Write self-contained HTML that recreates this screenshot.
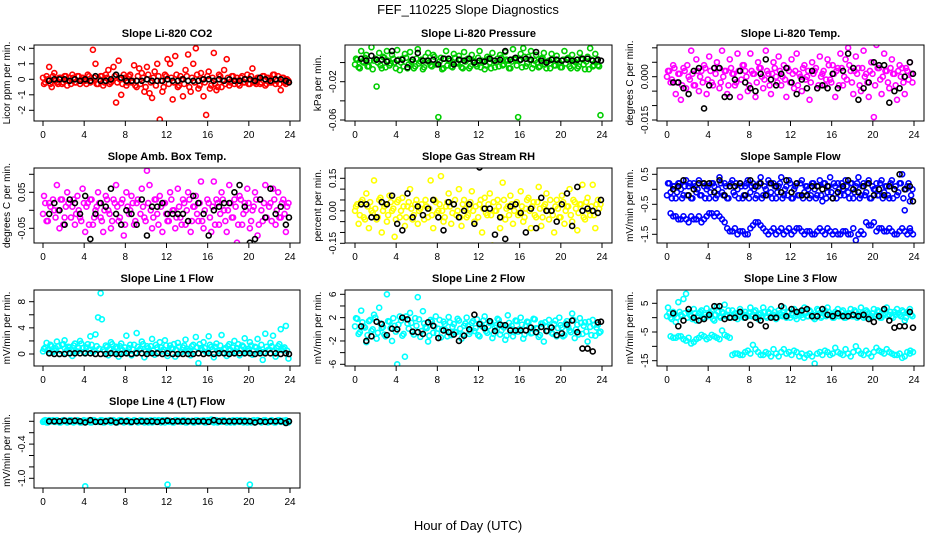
<!DOCTYPE html>
<html><head><meta charset="utf-8"><style>
html,body{margin:0;padding:0;background:#fff;}
svg{display:block;font-family:"Liberation Sans",sans-serif;}
</style></head><body>
<svg id="chart" width="936" height="540" viewBox="0 0 936 540">
<text x="468" y="14" text-anchor="middle" font-size="13">FEF_110225  Slope Diagnostics</text>
<text x="468" y="530" text-anchor="middle" font-size="13">Hour of Day (UTC)</text>
</svg>
<script>
const hoursC = [0.1,0.35,0.6,0.85,1.1,1.35,1.6,1.85,2.1,2.35,2.6,2.85,3.1,3.35,3.6,3.85,4.1,4.35,4.6,4.85,5.1,5.35,5.6,5.85,6.1,6.35,6.6,6.85,7.1,7.35,7.6,7.85,8.1,8.35,8.6,8.85,9.1,9.35,9.6,9.85,10.1,10.35,10.6,10.85,11.1,11.35,11.6,11.85,12.1,12.35,12.6,12.85,13.1,13.35,13.6,13.85,14.1,14.35,14.6,14.85,15.1,15.35,15.6,15.85,16.1,16.35,16.6,16.85,17.1,17.35,17.6,17.85,18.1,18.35,18.6,18.85,19.1,19.35,19.6,19.85,20.1,20.35,20.6,20.85,21.1,21.35,21.6,21.85,22.1,22.35,22.6,22.85,23.1,23.35,23.6,23.85];
const hoursC2 = [0.0,0.22,0.47,0.72,0.97,1.22,1.47,1.72,1.97,2.22,2.47,2.72,2.97,3.22,3.47,3.72,3.97,4.22,4.47,4.72,4.97,5.22,5.47,5.72,5.97,6.22,6.47,6.72,6.97,7.22,7.47,7.72,7.97,8.22,8.47,8.72,8.97,9.22,9.47,9.72,9.97,10.22,10.47,10.72,10.97,11.22,11.47,11.72,11.97,12.22,12.47,12.72,12.97,13.22,13.47,13.72,13.97,14.22,14.47,14.72,14.97,15.22,15.47,15.72,15.97,16.22,16.47,16.72,16.97,17.22,17.47,17.72,17.97,18.22,18.47,18.72,18.97,19.22,19.47,19.72,19.97,20.22,20.47,20.72,20.97,21.22,21.47,21.72,21.97,22.22,22.47,22.72,22.97,23.22,23.47,23.72,23.97];
const hoursB = [0.6,1.1,1.6,2.1,2.6,3.1,3.6,4.1,4.6,5.1,5.6,6.1,6.6,7.1,7.6,8.1,8.6,9.1,9.6,10.1,10.6,11.1,11.6,12.1,12.6,13.1,13.6,14.1,14.6,15.1,15.6,16.1,16.6,17.1,17.6,18.1,18.6,19.1,19.6,20.1,20.6,21.1,21.6,22.1,22.6,23.1,23.6,23.9];

const co2C = [-0.3,0.2,0.8,-0.5,0.4,-0.2,0.1,-0.3,0.2,-0.4,0.1,0.3,-0.2,0.2,-0.3,0.1,-0.1,0.3,-0.2,1.9,1.0,-0.3,0.2,-0.4,0.3,0.6,-0.2,0.8,-1.5,1.2,-1.0,0.3,-0.4,0.2,-0.2,0.9,-0.5,0.7,0.4,-0.8,0.8,-0.9,-1.2,0.5,1.0,-2.6,-0.8,0.3,1.3,1.0,-1.3,1.5,-0.5,0.2,-1.1,0.6,1.6,-0.8,1.0,2.0,-0.6,0.4,-1.1,-2.3,0.5,-0.4,1.7,-0.7,0.3,-0.5,0.6,1.3,-0.4,0.2,-0.3,0.1,-0.4,0.2,-0.2,0.3,-0.3,0.7,-0.2,0.1,-0.3,0.2,-0.4,0.1,-0.2,0.3,-0.3,0.2,-0.7,0.1,-0.3,-0.1];
const co2C2 = [0.1,-0.2,0.0,-0.3,0.2,-0.1,-0.3,0.1,-0.2,0.2,-0.1,-0.3,0.1,-0.2,0.2,-0.1,0.0,-0.3,0.2,-0.1,0.1,-0.3,0.0,0.2,-0.2,0.1,-0.3,-0.1,0.2,-0.2,0.0,-0.3,0.1,-0.2,0.3,-0.1,-0.4,0.2,-0.3,0.1,-0.5,0.3,-0.2,0.1,-0.4,0.2,-0.1,-0.5,0.2,-0.3,0.1,-0.2,0.3,-0.4,0.0,-0.3,0.2,-0.5,0.1,-0.2,0.3,-0.4,0.0,-0.2,0.2,-0.6,0.1,-0.3,-0.5,0.2,-0.1,-0.3,0.1,-0.2,0.2,-0.1,-0.3,0.1,-0.2,0.0,-0.3,0.2,-0.1,-0.3,0.1,-0.2,0.2,-0.3,0.0,-0.2,0.3,-0.1,-0.3,0.1,-0.2,0.0];
const co2B = [-0.1,0.0,0.0,0.0,-0.1,0.0,-0.1,0.0,-0.1,0.2,-0.1,-0.1,0.0,0.3,0.1,-0.1,-0.1,-0.1,-0.1,0.0,-0.1,-0.1,-0.1,0.0,-0.1,-0.1,0.0,-0.1,-0.1,-0.1,0.0,0.0,-0.1,0.0,-0.1,0.0,-0.1,-0.1,0.0,0.0,-0.1,0.1,0.0,-0.1,0.0,0.0,-0.1,-0.2];

const presC = [0.004,-0.005,0.012,0.0,0.008,-0.004,0.016,0.002,-0.025,0.01,-0.006,0.005,0.012,-0.003,0.008,0.0,0.013,-0.008,0.004,0.009,-0.006,0.011,0.003,-0.004,0.014,0.001,-0.007,0.006,0.01,-0.003,0.008,-0.002,-0.057,0.005,-0.006,0.012,0.002,-0.004,0.009,0.0,0.007,-0.005,0.011,0.003,-0.006,0.008,0.001,-0.004,0.012,0.002,-0.007,0.006,0.0,0.01,-0.005,0.004,0.008,-0.003,0.011,0.002,-0.006,0.014,0.003,-0.057,0.009,0.015,-0.004,0.006,0.012,-0.002,0.008,-0.005,0.004,0.01,-0.006,0.002,0.009,-0.003,0.007,0.0,-0.005,0.012,0.004,-0.004,0.008,0.001,-0.006,0.01,0.003,-0.007,0.006,0.015,-0.004,0.009,-0.003,-0.055];
const presC2 = [-0.002,0.003,-0.006,0.001,0.005,-0.004,0.002,-0.007,0.004,0.0,-0.003,0.006,-0.005,0.002,-0.001,0.004,-0.006,0.003,0.0,-0.004,0.005,-0.002,0.001,-0.006,0.004,-0.001,0.003,-0.005,0.002,0.0,-0.004,0.006,-0.002,0.001,-0.007,0.004,-0.003,0.002,-0.005,0.005,-0.001,0.003,-0.006,0.001,0.004,-0.004,0.002,-0.002,0.005,-0.005,0.001,-0.003,0.004,-0.006,0.002,0.0,-0.004,0.005,-0.002,0.003,-0.006,0.001,0.004,-0.003,0.002,-0.005,0.006,-0.001,0.003,-0.006,0.002,0.0,-0.004,0.005,-0.002,0.001,-0.006,0.004,-0.003,0.002,-0.005,0.003,-0.001,0.005,-0.006,0.002,0.0,-0.004,0.004,-0.002,0.001,-0.007,0.003,-0.003,0.002,-0.004];
const presB = [0.004,0.002,0.007,0.003,0.003,0.001,0.012,0.002,0.003,-0.005,0.003,0.01,0.002,0.002,0.003,-0.002,0.004,0.004,-0.002,0.003,0.002,0.004,0.0,0.002,0.001,0.004,0.002,0.003,0.012,0.003,0.005,0.003,0.004,0.003,0.011,0.002,0.0,0.003,0.003,0.002,0.003,0.002,0.003,0.004,0.004,0.002,0.003,0.002];

const tempC = [0.002,-0.002,0.004,-0.006,0.001,-0.008,0.003,-0.004,0.0,0.009,-0.003,0.006,-0.005,0.002,0.004,-0.006,0.007,-0.002,0.003,0.005,-0.004,0.009,0.002,-0.006,0.006,0.001,-0.003,0.008,-0.007,0.004,0.002,-0.005,0.008,0.001,-0.007,0.005,0.003,-0.004,0.009,0.001,-0.006,0.005,0.0,0.007,-0.003,0.004,-0.007,0.002,0.006,-0.004,0.008,0.001,-0.005,0.004,0.0,-0.008,0.005,0.002,-0.004,0.007,0.001,-0.003,0.006,-0.001,0.004,-0.007,0.003,0.008,-0.003,0.006,0.01,0.002,-0.006,0.007,0.003,-0.005,0.009,0.001,-0.007,0.005,-0.014,0.011,0.003,-0.006,0.008,0.002,-0.004,0.006,0.001,-0.008,0.004,0.003,-0.006,0.002,0.005,-0.002];
const tempC2 = [0.0,0.002,-0.001,0.003,-0.002,0.001,-0.003,0.002,0.004,-0.001,0.001,-0.003,0.002,0.0,-0.002,0.003,-0.001,0.002,-0.003,0.001,0.003,-0.002,0.0,0.002,-0.003,0.003,0.001,-0.002,0.002,-0.001,0.004,0.0,-0.003,0.002,0.001,-0.002,0.003,0.0,-0.001,0.002,-0.003,0.001,0.003,-0.002,0.002,0.0,-0.001,0.003,-0.002,0.001,0.002,-0.003,0.0,0.003,-0.001,0.002,-0.002,0.001,0.003,-0.003,0.0,0.002,-0.001,0.004,-0.002,0.001,0.002,-0.003,0.003,0.0,-0.001,0.004,-0.002,0.002,0.001,-0.003,0.003,0.0,-0.002,0.002,0.001,-0.003,0.003,-0.001,0.0,0.002,-0.002,0.003,0.001,-0.003,0.002,0.0,-0.002,0.003,-0.001,0.001];
const tempB = [-0.002,-0.002,-0.004,-0.006,0.002,0.003,-0.011,-0.003,0.003,0.003,-0.007,-0.007,-0.001,0.002,-0.002,-0.004,-0.005,0.001,0.006,-0.001,-0.003,0.001,0.003,-0.002,-0.006,-0.001,-0.004,0.002,-0.004,-0.003,-0.004,0.001,-0.004,0.002,0.008,0.003,-0.008,-0.004,-0.002,0.005,0.004,0.004,-0.009,-0.005,-0.004,0.0,0.005,0.001];

const ambC = [0.04,-0.03,0.02,-0.11,0.0,0.07,-0.05,0.03,-0.02,0.05,-0.1,0.01,-0.04,0.04,-0.02,0.06,-0.06,0.02,0.03,-0.04,0.0,0.05,-0.02,-0.06,0.04,0.0,-0.05,0.03,0.07,-0.03,0.02,-0.07,0.05,-0.01,0.04,-0.04,0.02,-0.11,0.06,-0.02,0.11,0.07,-0.05,0.03,-0.01,0.04,-0.06,0.02,-0.03,0.05,0.0,-0.05,0.06,-0.02,0.03,-0.04,0.05,-0.06,0.01,0.04,-0.03,0.08,-0.05,-0.13,0.02,-0.06,0.08,0.03,-0.04,0.05,0.0,-0.06,0.07,-0.02,0.03,-0.09,0.04,-0.04,0.02,0.06,-0.05,0.0,0.05,-0.07,0.03,-0.03,0.07,-0.1,0.02,0.06,-0.04,0.05,-0.02,0.03,-0.06,0.02];
const ambC2 = [-0.01,0.02,-0.03,0.01,0.03,-0.02,0.0,0.03,-0.04,0.01,0.02,-0.02,0.03,-0.01,0.0,-0.03,0.02,0.01,-0.04,0.03,-0.02,0.01,0.02,-0.03,0.0,0.03,-0.01,-0.03,0.02,0.01,-0.02,0.03,-0.04,0.01,0.0,0.02,-0.03,0.03,-0.01,0.01,-0.03,0.02,0.0,-0.02,0.03,-0.04,0.01,0.02,-0.01,-0.03,0.03,0.0,-0.02,0.01,-0.04,0.02,0.0,0.03,-0.03,0.01,-0.01,0.02,-0.03,0.0,0.03,-0.02,0.01,-0.04,0.02,-0.01,0.03,-0.03,0.0,0.02,-0.02,0.01,-0.04,0.03,-0.01,0.0,0.02,-0.03,0.01,0.03,-0.04,0.0,0.02,-0.02,0.01,-0.03,0.03,0.0,-0.02,0.02,-0.01,0.01];
const ambB = [-0.01,0.02,0.0,-0.04,0.03,0.02,-0.01,0.04,-0.08,-0.01,0.02,0.01,0.06,-0.01,-0.04,0.0,-0.01,-0.04,0.03,-0.07,0.01,0.01,0.02,-0.01,-0.01,-0.01,-0.01,-0.03,0.04,0.02,-0.01,-0.07,0.0,0.01,0.02,0.02,0.05,0.07,0.01,-0.09,-0.08,0.03,-0.02,0.06,-0.01,0.01,-0.04,-0.02];

const rhC = [0.02,-0.06,0.04,-0.03,0.08,-0.08,0.0,0.14,-0.04,0.05,-0.1,0.02,-0.05,0.07,0.0,-0.12,0.04,-0.03,0.06,-0.07,0.02,0.1,-0.04,0.03,-0.06,0.01,-0.17,0.05,-0.03,0.14,-0.08,0.04,0.0,0.16,-0.05,0.02,0.08,-0.06,0.03,-0.02,0.1,-0.07,0.05,-0.03,0.01,0.09,-0.05,0.22,0.03,-0.1,0.06,-0.02,0.08,-0.16,0.0,0.05,-0.08,0.13,-0.04,0.02,0.07,-0.06,0.03,-0.02,0.09,-0.05,0.01,0.06,-0.08,0.04,-0.03,0.11,-0.07,0.02,0.08,-0.04,0.0,-0.1,0.05,-0.03,0.07,-0.06,0.02,0.1,-0.05,0.04,-0.09,0.03,0.12,-0.04,0.06,-0.02,0.12,-0.08,0.05,0.03];
const rhC2 = [0.0,0.03,-0.02,0.05,-0.04,0.02,0.04,-0.01,0.01,-0.03,0.06,0.0,0.03,-0.02,0.04,0.01,-0.04,0.05,0.0,0.02,-0.03,0.04,0.01,-0.02,0.05,0.0,0.03,-0.04,0.02,0.01,-0.02,0.05,-0.01,0.03,0.0,-0.03,0.04,0.02,-0.01,0.05,0.0,-0.03,0.03,0.01,-0.02,0.04,0.0,0.02,-0.03,0.05,0.01,-0.01,0.03,-0.02,0.04,0.0,0.02,-0.03,0.05,0.01,-0.02,0.03,0.0,0.04,-0.01,0.02,-0.03,0.05,0.0,0.02,-0.02,0.04,0.01,-0.03,0.03,0.0,0.05,-0.02,0.02,0.01,-0.03,0.04,0.0,0.02,-0.02,0.05,0.01,-0.01,0.03,-0.03,0.04,0.0,0.02,-0.02,0.03,0.01];
const rhB = [0.03,0.03,-0.03,-0.03,0.04,0.03,0.07,-0.06,-0.09,0.08,-0.03,0.02,-0.02,0.01,0.05,-0.03,-0.09,0.04,0.03,-0.03,0.0,0.03,-0.06,0.2,0.01,0.01,-0.11,-0.03,-0.13,0.02,0.03,-0.01,-0.1,0.01,-0.08,0.06,0.0,0.0,-0.05,0.03,0.08,-0.07,0.11,0.0,0.01,0.0,-0.01,0.05];

const flowC = [0.2,-0.1,0.1,-0.3,0.2,0.0,-0.2,0.3,0.1,-0.3,0.2,-0.1,0.3,-0.2,0.1,0.0,-0.3,0.2,0.1,-0.2,0.4,-0.1,0.2,-0.3,0.1,0.3,-0.2,0.0,0.2,-0.3,0.1,0.3,-0.1,0.2,-0.3,0.1,0.4,-0.2,0.0,0.3,-0.1,0.2,-0.3,0.1,0.4,-0.2,0.1,0.3,-0.3,0.0,0.2,-0.2,0.3,-0.1,0.1,-0.3,0.2,0.0,-0.2,0.3,-0.4,0.2,-0.1,0.4,-0.3,0.1,0.2,-0.2,0.0,0.3,-0.1,0.2,-0.3,0.1,0.4,-0.2,0.2,-0.1,0.3,-0.3,0.0,0.2,-0.2,0.3,-0.1,0.1,-0.3,0.3,0.0,-0.2,0.2,0.5,-0.7,0.1,-0.4,0.0];
const flowC2 = [-0.2,0.2,-0.3,0.1,-0.1,0.2,-0.3,0.1,-0.2,0.2,-0.3,0.1,0.0,-0.2,0.2,-0.3,0.1,-0.1,0.2,-0.3,0.0,0.2,-0.2,0.1,-0.3,0.2,-0.1,0.2,-0.3,0.1,-0.2,0.2,-0.3,0.1,0.0,-0.2,0.2,-0.3,0.1,-0.2,0.2,-0.3,0.1,-0.1,0.2,-0.3,0.0,-0.2,0.2,-0.3,0.1,-0.2,0.2,-0.3,0.1,0.0,-0.2,0.2,-0.3,0.1,-0.2,0.2,-0.3,0.1,-0.1,0.2,-0.3,0.0,0.2,-0.2,0.1,-0.3,0.2,-0.1,0.2,-0.3,0.1,-0.2,0.2,-0.3,0.1,0.0,-0.2,0.2,-0.3,0.1,-0.2,0.2,-0.3,0.1,-0.1,0.2,-0.3,0.0,0.2,-0.2];
const flowLow = [-0.8,-0.9,-1.0,-1.0,-0.9,-1.0,-1.1,-0.9,-0.8,-0.8,-1.0,-1.3,-1.4,-1.5,-1.4,-1.5,-1.2,-1.1,-1.3,-1.5,-1.3,-1.4,-1.5,-1.3,-1.4,-1.3,-1.5,-1.4,-1.5,-1.3,-1.5,-1.4,-1.4,-1.5,-1.4,-1.5,-1.7,-1.4,-1.1,-1.2,-1.4,-1.3,-1.4,-1.4,-1.5,-1.3,-1.5,-1.4];
const flowLow2 = [-0.9,-1.0,-0.9,-1.1,-1.0,-0.9,-1.0,-0.8,-0.9,-0.9,-1.1,-1.4,-1.3,-1.4,-1.5,-1.3,-1.1,-1.2,-1.4,-1.4,-1.5,-1.3,-1.4,-1.5,-1.3,-1.4,-1.4,-1.5,-1.4,-1.4,-1.3,-1.5,-1.5,-1.4,-1.5,-1.3,-1.5,-1.5,-1.2,-1.1,-1.3,-1.4,-1.3,-1.5,-1.4,-1.4,-1.3,-1.5];
const flowB = [0.0,0.1,0.3,-0.2,0.0,0.2,0.2,0.2,-0.1,0.3,-0.2,0.1,0.1,0.2,-0.2,0.3,0.1,0.2,-0.2,0.2,0.1,-0.1,0.3,-0.1,0.2,-0.2,-0.2,0.1,0.1,0.0,0.1,-0.3,-0.1,0.1,0.3,0.0,-0.1,0.1,0.2,-0.2,0.0,-0.2,0.1,0.0,0.5,0.0,0.1,-0.4];

const l1C = [0.8,1.7,0.2,1.2,0.5,1.9,0.0,1.4,2.1,0.6,1.0,-0.3,1.6,0.4,2.0,0.9,0.1,1.5,2.7,0.3,3.0,5.6,9.3,0.7,1.3,-0.2,1.8,0.5,1.1,-0.4,1.6,0.2,2.8,0.9,-0.2,1.4,3.2,0.6,1.9,-0.5,1.2,0.3,2.3,-0.1,1.0,1.8,0.4,2.1,-0.3,1.3,0.8,-0.4,1.7,0.2,1.0,2.2,0.5,-0.2,1.4,2.6,-1.4,0.9,1.8,0.3,2.7,1.1,-0.5,1.6,0.4,2.9,0.7,-0.3,1.5,0.2,2.0,0.9,-0.2,1.3,2.4,0.5,1.8,-0.1,1.1,2.3,0.4,-0.9,3.1,0.6,1.7,2.8,-0.4,1.2,3.8,0.8,4.3,-0.7];
const l1C2 = [0.4,1.0,0.6,1.4,0.3,0.9,1.2,0.5,1.5,0.2,1.1,0.7,1.3,0.4,0.9,1.6,0.3,1.0,0.6,1.4,0.5,1.2,0.8,5.3,0.4,1.1,0.7,1.5,0.3,0.9,1.2,0.6,1.0,0.4,1.4,0.7,0.2,1.1,0.8,1.5,0.4,0.9,1.2,0.5,1.4,0.3,1.0,0.7,1.3,0.4,0.9,1.5,0.6,1.1,0.3,1.3,0.8,0.5,1.2,0.4,1.0,1.5,0.6,0.9,0.3,1.4,0.7,1.1,0.5,1.3,0.2,0.9,1.2,0.6,1.0,0.4,1.5,0.7,1.1,0.3,0.8,1.3,0.5,1.0,0.6,1.4,0.3,1.1,0.7,1.2,0.4,0.9,1.5,0.6,1.0,0.5];
const l1B = [0.1,0.0,0.0,0.0,0.1,0.1,0.1,0.1,0.1,0.0,0.0,0.0,0.1,0.0,0.0,0.1,0.0,0.1,0.1,0.0,0.1,0.1,0.0,0.1,0.0,0.0,0.0,0.0,0.0,0.1,0.0,0.1,0.0,0.1,0.1,0.0,0.1,0.1,0.1,0.1,0.0,0.1,0.1,0.1,0.1,0.0,0.1,0.0];

const l2C = [1.9,-0.8,3.2,0.5,-2.2,1.4,-0.3,2.5,-1.6,3.7,0.2,-0.9,6.0,1.3,-2.0,0.6,-6.0,2.2,-1.1,-4.7,1.0,2.8,-0.5,1.9,5.5,-1.3,3.1,0.4,-2.1,1.6,-0.6,2.2,0.1,-1.4,1.3,-0.2,2.1,-1.0,0.9,-0.5,1.5,-1.6,0.6,2.0,-0.8,1.1,-0.3,1.7,-1.2,0.5,2.2,-0.6,1.1,-1.5,0.3,1.8,-0.9,0.7,-1.8,2.4,0.1,-1.2,1.5,-0.4,2.0,-1.6,0.6,1.2,-0.7,1.8,0.2,-1.3,1.0,-2.1,0.5,1.6,-0.6,0.9,-1.2,2.0,0.3,-1.0,1.4,-0.2,2.7,-1.5,0.8,1.9,-0.8,1.2,-2.1,0.4,1.6,-1.1,0.8,-0.4];
const l2C2 = [0.5,1.8,-0.5,1.2,0.3,-1.0,1.6,0.0,2.0,-0.6,1.0,0.4,-1.2,1.4,0.2,1.9,-0.4,0.8,1.5,-0.8,2.2,0.1,1.1,-0.9,0.6,1.7,-0.3,1.0,0.2,-1.1,1.3,0.5,-0.7,1.6,0.0,0.9,-1.2,1.2,0.4,-0.5,1.8,0.1,-0.9,1.0,0.6,-0.4,1.4,0.2,-1.0,0.9,1.5,-0.3,0.5,1.2,-0.8,0.7,1.6,-0.2,0.3,-1.1,1.1,0.6,-0.5,1.4,0.0,0.8,-0.9,1.3,0.4,-0.6,1.7,0.1,-1.0,0.9,1.2,-0.3,0.5,-0.8,1.5,0.2,0.7,-1.2,1.0,0.4,-0.5,1.6,0.0,-0.9,1.1,0.6,-0.4,1.3,-1.0,0.7,0.3,-0.6];
const l2B = [0.5,-2.0,-1.2,1.3,0.9,-1.0,0.1,0.0,2.0,1.7,-0.4,-0.5,-0.8,1.2,0.6,-1.5,-0.2,-0.5,-0.9,-2.0,-1.1,0.0,2.5,0.9,0.2,1.4,-0.3,0.8,0.7,-0.2,-0.2,-0.2,-0.2,0.3,-0.5,0.4,-0.3,0.3,-1.0,-0.7,0.8,1.5,-0.5,-3.3,-3.3,-3.8,1.2,1.3];

const l3C = [3.5,0.0,2.0,-1.5,5.4,1.0,6.5,8.3,2.0,0.5,3.0,-1.0,1.5,2.5,0.0,3.2,1.0,2.2,-1.0,3.8,0.5,2.0,4.5,1.0,0.0,2.5,1.5,-0.5,3.0,1.0,2.0,0.5,3.5,1.0,2.5,-0.5,1.5,3.5,0.5,2.0,3.0,1.0,-0.5,2.5,1.0,3.5,0.0,2.0,1.0,3.0,-0.5,2.0,1.0,3.5,0.5,2.5,1.0,-0.5,3.0,1.5,0.5,2.5,3.5,1.0,0.0,2.0,3.0,1.0,2.5,0.0,1.5,3.0,0.5,2.0,1.0,3.5,0.0,2.5,1.5,0.5,3.0,1.0,2.0,0.0,2.5,3.5,1.0,0.5,2.0,3.0,1.0,2.5,-1.0,2.0,3.0,0.5];
const l3C2 = [0.5,1.5,-0.5,1.0,0.0,2.0,0.5,1.5,0.0,1.0,-0.5,1.5,0.5,2.0,0.0,1.0,0.5,1.5,-0.5,1.0,2.0,0.0,1.5,0.5,2.5,0.0,1.0,1.5,0.5,2.0,0.0,1.0,1.5,0.5,2.0,0.0,1.0,0.5,2.0,0.0,1.5,0.5,2.0,0.0,1.5,0.5,1.0,2.0,0.0,1.5,0.5,1.0,2.0,0.0,1.5,0.5,2.0,0.0,1.0,2.5,0.0,1.5,0.5,2.0,1.0,0.0,1.5,0.5,2.0,0.0,1.0,1.5,0.5,2.5,0.0,1.0,1.5,0.5,2.0,0.0,1.5,0.5,2.5,0.0,1.0,1.5,0.5,2.0,0.0,1.0,1.5,0.5,2.0,0.0,1.5,1.0];
const l3Low = [-6.5,-7.0,-6.5,-8.0,-9.0,-7.5,-6.0,-7.5,-6.0,-7.0,-4.5,-6.5,-13.0,-12.5,-13.0,-11.5,-9.5,-12.0,-13.0,-12.5,-11.0,-13.5,-11.0,-12.0,-11.5,-13.5,-14.0,-12.5,-16.0,-12.0,-11.5,-13.0,-10.5,-12.5,-11.0,-13.5,-10.0,-12.5,-11.5,-13.5,-10.5,-12.0,-11.0,-12.5,-13.0,-14.0,-12.0,-11.5];
const l3Low2 = [-7.0,-6.5,-7.5,-7.0,-8.5,-7.0,-6.5,-7.0,-6.5,-7.5,-6.0,-7.0,-12.5,-13.0,-12.0,-12.5,-11.0,-13.0,-12.0,-13.5,-12.5,-12.0,-12.5,-13.0,-12.0,-12.5,-13.0,-13.5,-12.5,-13.0,-12.0,-12.5,-12.0,-13.0,-12.5,-12.0,-11.5,-13.0,-12.5,-12.0,-11.5,-12.5,-12.0,-13.0,-12.5,-13.5,-12.5,-12.0];
const l3B = [1.5,-3.0,-1.0,3.0,0.0,-1.0,-0.5,1.0,4.0,4.0,-0.5,0.0,0.0,2.0,0.0,-2.5,0.0,-1.0,-3.0,0.0,0.0,4.0,0.5,3.0,2.0,2.5,3.0,0.5,0.5,3.0,1.0,0.5,1.5,0.5,0.5,1.0,0.5,1.0,-0.5,-1.5,0.5,3.0,-1.0,-3.5,-3.0,-3.0,2.0,-3.5];

const l4C = [0.01,-0.02,0.02,0.0,-0.01,0.02,-0.02,0.01,0.0,-0.02,0.02,-0.01,0.01,0.02,-0.02,0.0,-1.14,0.01,-0.02,0.02,0.0,-0.01,0.02,-0.02,0.01,0.0,-0.02,0.02,-0.01,0.01,0.02,-0.02,0.0,0.01,-0.02,0.02,0.0,-0.01,0.02,-0.02,0.01,0.0,-0.02,0.02,-0.01,0.01,0.02,-0.02,-1.11,0.01,-0.02,0.02,0.0,-0.01,0.02,-0.02,0.01,0.0,-0.02,0.02,-0.01,0.01,0.02,-0.02,0.0,0.03,-0.02,0.02,0.0,-0.01,0.02,-0.02,0.01,0.0,-0.02,0.02,-0.01,0.01,0.02,-0.02,-1.11,0.01,-0.02,0.02,0.0,-0.01,0.02,-0.02,0.01,0.0,-0.02,0.02,-0.01,0.01,0.02,-0.02];
const l4C2 = [-0.01,0.02,-0.02,0.01,0.02,-0.01,0.0,-0.02,0.02,0.01,-0.01,0.02,-0.02,0.0,0.01,-0.02,0.02,-0.01,0.01,-0.02,0.02,0.0,-0.01,0.02,-0.02,0.01,0.02,-0.01,0.0,-0.02,0.02,0.01,-0.01,0.02,-0.02,0.0,0.01,-0.02,0.02,-0.01,0.01,-0.02,0.02,0.0,-0.01,0.02,-0.02,0.01,0.02,-0.01,0.0,-0.02,0.02,0.01,-0.01,0.02,-0.02,0.0,0.01,-0.02,0.02,-0.01,0.01,-0.02,0.02,0.0,-0.01,0.02,-0.02,0.01,0.02,-0.01,0.0,-0.02,0.02,0.01,-0.01,0.02,-0.02,0.0,0.01,-0.02,0.02,-0.01,0.01,-0.02,0.02,0.0,-0.01,0.02,-0.02,0.01,0.02,-0.01,0.0,-0.02];
const l4B = [0.0,0.0,0.0,0.01,0.0,0.01,0.0,-0.02,0.02,-0.01,-0.01,0.0,0.01,-0.02,0.0,0.0,-0.01,0.0,0.0,0.0,0.0,-0.01,0.0,0.01,0.0,0.0,0.0,0.0,0.0,0.0,0.0,-0.01,0.02,0.0,0.0,0.0,0.0,0.0,0.0,0.0,-0.02,0.0,-0.01,0.0,0.0,0.0,-0.03,0.0];

const xTicks = [0,4,8,12,16,20,24];

const panels = [
 {name:'co2', title:'Slope Li-820 CO2', ylab:'Licor ppm per min.', col:0, row:0, color:'#ff0000', ref:[2,48.3,-2,110.3], ticks:[2,1,0,-1,-2], labels:['2','1','0','-1','-2'], c:co2C, c2:co2C2, b:co2B},
 {name:'pressure', title:'Slope Li-820 Pressure', ylab:'kPa per min.', col:1, row:0, color:'#00cd00', ref:[-0.02,81.7,-0.06,120], ticks:[0,-0.02,-0.04,-0.06], labels:['','-0.02','','-0.06'], c:presC, c2:presC2, b:presB},
 {name:'licor-temp', title:'Slope Li-820 Temp.', ylab:'degrees C per min.', col:2, row:0, color:'#ff00ff', ref:[0,76.7,-0.015,120], ticks:[0.01,0.005,0,-0.005,-0.01,-0.015], labels:['','','0.000','','','-0.015'], c:tempC, c2:tempC2, b:tempB},
 {name:'amb-box-temp', title:'Slope Amb. Box Temp.', ylab:'degrees C per min.', col:0, row:1, color:'#ff00ff', ref:[0.05,192.3,-0.05,228.3], ticks:[0.1,0.05,0,-0.05], labels:['','0.05','','-0.05'], c:ambC, c2:ambC2, b:ambB},
 {name:'gas-stream-rh', title:'Slope Gas Stream RH', ylab:'percent per min.', col:1, row:1, color:'#ffff00', ref:[0.15,178.3,-0.15,243.3], ticks:[0.15,0.1,0.05,0,-0.05,-0.1,-0.15], labels:['0.15','','','0.00','','','-0.15'], c:rhC, c2:rhC2, b:rhB},
 {name:'sample-flow', title:'Slope Sample Flow', ylab:'mV/min per min.', col:2, row:1, color:'#0000ff', ref:[0.5,174.3,-1.5,234.3], ticks:[0.5,0,-0.5,-1,-1.5], labels:['0.5','','-0.5','','-1.5'], c:flowC, c2:flowC2, low:flowLow, low2:flowLow2, b:flowB},
 {name:'line1-flow', title:'Slope Line 1 Flow', ylab:'mV/min per min.', col:0, row:2, color:'#00ffff', ref:[8,301.7,0,354], ticks:[8,6,4,2,0], labels:['8','','4','','0'], c:l1C, c2:l1C2, b:l1B},
 {name:'line2-flow', title:'Slope Line 2 Flow', ylab:'mV/min per min.', col:1, row:2, color:'#00ffff', ref:[6,294.3,-6,364.3], ticks:[6,4,2,0,-2,-4,-6], labels:['6','','2','','-2','','-6'], c:l2C, c2:l2C2, b:l2B},
 {name:'line3-flow', title:'Slope Line 3 Flow', ylab:'mV/min per min.', col:2, row:2, color:'#00ffff', ref:[5,303.3,-15,360.7], ticks:[5,0,-5,-10,-15], labels:['5','','-5','','-15'], c:l3C, c2:l3C2, low:l3Low, low2:l3Low2, b:l3B},
 {name:'line4-flow', title:'Slope Line 4 (LT) Flow', ylab:'mV/min per min.', col:0, row:3, color:'#00ffff', ref:[0,421.3,-1,478.3], ticks:[0,-0.2,-0.4,-0.6,-0.8,-1.0], labels:['','','-0.4','','','-1.0'], c:l4C, c2:l4C2, b:l4B}
];

const colBox = [[34,300,43,290],[345,612,355,602],[657,924,667,914]];
const rowBox = [[45,121],[168,243],[290,366],[413,488]];
const NS = 'http://www.w3.org/2000/svg';
const svg = document.getElementById('chart');
function mk(tag, attrs, parent){
  const e = document.createElementNS(NS, tag);
  for (const k in attrs) e.setAttribute(k, attrs[k]);
  (parent||svg).appendChild(e);
  return e;
}
function drawSeries(parent, hrs, vals, offset, xs, ys, color, label){
  const n = Math.min(hrs.length, vals.length);
  for (let i=0;i<n;i++){
    const c = mk('circle', {cx:xs(hrs[i]+offset), cy:ys(vals[i]), r:2.5, stroke:color}, parent);
    
    
  }
}
panels.forEach(p => {
  const [bx0,bx1,x0px,x24px] = colBox[p.col];
  const [by0,by1] = rowBox[p.row];
  const xs = h => x0px + (h/24)*(x24px-x0px);
  const [v1,p1,v2,p2] = p.ref;
  const ys = v => p1 + (v - v1)*(p2-p1)/(v2-v1);
  const g = mk('g', {});
  
  
  const clipId = 'clip-' + p.name;
  const cp = mk('clipPath', {id: clipId}, g);
  mk('rect', {x:bx0, y:by0, width:bx1-bx0, height:by1-by0}, cp);
  const t = mk('text', {x:(bx0+bx1)/2, y:by0-8, 'text-anchor':'middle', 'font-size':'11', 'font-weight':'bold'}, g);
  t.textContent = p.title;
  
  
  const ylx = bx0 - 24;
  const yl = mk('text', {x:ylx, y:(by0+by1)/2, 'text-anchor':'middle', 'font-size':'10', transform:`rotate(-90 ${ylx} ${(by0+by1)/2})`}, g);
  yl.textContent = p.ylab;
  
  
  const pts = mk('g', {'clip-path':`url(#${clipId})`, fill:'none', 'stroke-width':'1.6'}, g);
  
  
  drawSeries(pts, hoursC, p.c, 0, xs, ys, p.color, 'point');
  drawSeries(pts, hoursC2, p.c2, 0, xs, ys, p.color, 'point');
  if (p.low){
    drawSeries(pts, hoursB, p.low, -0.25, xs, ys, p.color, 'point-low-band');
    drawSeries(pts, hoursB, p.low2, 0, xs, ys, p.color, 'point-low-band');
  }
  drawSeries(pts, hoursB, p.b, 0, xs, ys, '#000', 'point-black');
  const box = mk('rect', {x:bx0, y:by0, width:bx1-bx0, height:by1-by0, fill:'none', stroke:'#000', 'stroke-width':'1'}, g);
  
  
  xTicks.forEach(h => {
    const x = xs(h);
    mk('line', {x1:x, x2:x, y1:by1, y2:by1+5, stroke:'#000'}, g);
    const tl = mk('text', {x:x, y:by1+17, 'text-anchor':'middle', 'font-size':'10'}, g);
    tl.textContent = h;
    
    
  });
  p.ticks.forEach((v,i) => {
    const y = ys(v);
    mk('line', {x1:bx0-5, x2:bx0, y1:y, y2:y, stroke:'#000'}, g);
    if (p.labels[i]){
      const lx = bx0 - 9;
      const tl = mk('text', {x:lx, y:y, 'text-anchor':'middle', 'font-size':'10', transform:`rotate(-90 ${lx} ${y})`}, g);
      tl.textContent = p.labels[i];
      
      
    }
  });
});
</script>
</body></html>
